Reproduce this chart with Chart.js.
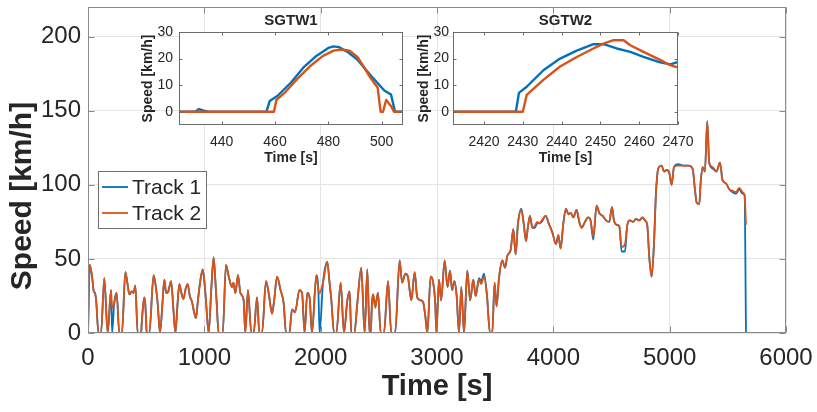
<!DOCTYPE html>
<html>
<head>
<meta charset="utf-8">
<script src="https://cdn.jsdelivr.net/npm/chart.js@4/dist/chart.umd.min.js"></script>
<style>
  html, body { margin: 0; padding: 0; background: #fff; }
  #wrap { position: relative; width: 817px; height: 412px; }
  #wrap canvas { position: absolute; left: 0; top: 0; }
</style>
</head>
<body>
<div id="wrap">
  <canvas id="main" width="817" height="412"></canvas>
  <canvas id="inset1" width="817" height="412"></canvas>
  <canvas id="inset2" width="817" height="412"></canvas>
</div>
<script>
// ---- main plot: full drive cycle (time in s, speed in km/h) ----
const time = [
  0, 15, 35, 50, 60, 70, 90, 112, 140, 169, 198, 207, 225, 246, 269, 292, 321, 340, 355, 375,
  390, 407, 427, 457, 460, 472, 484, 492, 500, 504, 527, 564, 585, 599, 619, 640, 656, 672, 690, 714,
  735, 751, 770, 785, 800, 820, 840, 857, 875, 894, 912, 928, 945, 965, 986, 1000, 1014, 1037, 1060, 1080,
  1095, 1105, 1123, 1158, 1186, 1210, 1238, 1250, 1267, 1289, 1310, 1338, 1352, 1375, 1404, 1424, 1453, 1473, 1496, 1530,
  1555, 1582, 1600, 1625, 1655, 1682, 1702, 1731, 1754, 1780, 1817, 1840, 1862, 1885, 1905, 1925, 1963, 1980, 1991, 2020,
  2057, 2075, 2092, 2115, 2135, 2172, 2200, 2229, 2249, 2263, 2290, 2315, 2349, 2378, 2401, 2420, 2430, 2440, 2450, 2460,
  2470, 2480, 2493, 2516, 2544, 2579, 2607, 2640, 2679, 2700, 2728, 2750, 2779, 2808, 2830, 2859, 2880, 2900, 2917, 2945,
  2965, 2985, 2995, 3017, 3035, 3066, 3090, 3112, 3130, 3150, 3169, 3189, 3209, 3232, 3260, 3285, 3312, 3332, 3361, 3380,
  3404, 3430, 3455, 3475, 3495, 3512, 3533, 3561, 3585, 3604, 3633, 3656, 3676, 3696, 3725, 3745, 3765, 3782, 3799, 3820,
  3840, 3862, 3880, 3900, 3934, 3960, 3991, 4023, 4043, 4063, 4086, 4109, 4130, 4150, 4172, 4200, 4223, 4243, 4272, 4300,
  4320, 4343, 4372, 4395, 4424, 4453, 4481, 4504, 4521, 4544, 4567, 4587, 4616, 4636, 4659, 4687, 4710, 4739, 4767, 4787,
  4807, 4825, 4845, 4865, 4882, 4902, 4931, 4951, 4974, 4997, 5017, 5037, 5074, 5117, 5160, 5197, 5217, 5232, 5255, 5266,
  5283, 5303, 5323, 5340, 5369, 5403, 5432, 5455, 5484, 5513, 5541, 5570, 5598, 5627, 5644, 5656
];
const track1 = [
  0, 46, 38, 28, 27, 22, 0, 0, 37, 0, 29, 0, 20, 27, 0, 0, 41, 33, 26, 28,
  27, 32, 0, 0, 4, 17, 24, 20, 8, 0, 0, 39, 30, 20, 0, 20, 36, 27, 28, 35,
  15, 0, 20, 33, 28, 23, 30, 33, 25, 21, 14, 10, 22, 35, 43, 35, 22, 0, 30, 51,
  35, 22, 0, 0, 46, 38, 31, 34, 27, 39, 27, 22, 0, 29, 0, 0, 24, 0, 0, 35,
  26, 13, 22, 38, 29, 20, 0, 0, 16, 14, 29, 27, 0, 27, 24, 0, 39, 29, 0, 34,
  48, 35, 22, 0, 0, 34, 0, 22, 28, 0, 0, 20, 44, 0, 43, 0, 0, 20, 26, 21,
  18, 22, 27, 0, 0, 35, 0, 0, 49, 34, 40, 38, 22, 41, 24, 22, 21, 11, 0, 38,
  35, 20, 0, 36, 22, 49, 31, 42, 29, 35, 25, 0, 31, 0, 42, 22, 36, 25, 37, 35,
  40, 25, 0, 0, 34, 18, 37, 49, 44, 52, 56, 70, 53, 74, 84, 74, 62, 72, 79, 71,
  71, 74, 74, 75, 79, 74, 68, 60, 66, 57, 74, 84, 80, 81, 78, 83, 75, 71, 75, 78,
  76, 63, 86, 81, 79, 76, 75, 85, 76, 73, 72, 55, 55, 73, 76, 75, 77, 76, 78, 76,
  73, 51, 38, 60, 94, 111, 113, 109, 110, 108, 100, 112, 114, 113, 113, 111, 97, 88, 87, 101,
  112, 109, 143, 115, 111, 109, 115, 103, 101, 97, 95, 94, 97, 94, 93, 0
];
const track2 = [
  0, 46, 38, 28, 27, 22, 0, 0, 37, 0, 29, 17, 20, 27, 0, 0, 41, 33, 26, 28,
  27, 32, 0, 0, 5, 17, 24, 20, 8, 0, 0, 39, 30, 20, 0, 20, 36, 27, 28, 35,
  15, 0, 20, 33, 28, 23, 30, 33, 25, 21, 14, 10, 22, 35, 43, 35, 22, 0, 30, 51,
  35, 22, 0, 0, 46, 38, 31, 34, 27, 39, 27, 22, 0, 29, 0, 0, 24, 0, 0, 35,
  26, 13, 22, 38, 29, 20, 0, 0, 16, 14, 29, 27, 0, 27, 24, 0, 39, 29, 27, 34,
  48, 35, 22, 0, 0, 34, 0, 22, 28, 0, 0, 20, 44, 0, 43, 0, 0, 17, 26, 23,
  17, 22, 27, 0, 0, 35, 0, 0, 49, 34, 40, 38, 22, 41, 24, 22, 21, 11, 0, 38,
  35, 20, 0, 36, 22, 49, 31, 42, 29, 35, 25, 0, 31, 0, 42, 22, 36, 25, 36, 33,
  38, 25, 0, 0, 34, 18, 37, 49, 44, 52, 56, 70, 53, 74, 83, 74, 62, 72, 79, 71,
  72, 75, 74, 76, 79, 74, 68, 60, 66, 57, 74, 84, 80, 81, 78, 83, 75, 71, 75, 78,
  76, 65, 86, 81, 79, 76, 75, 85, 76, 73, 72, 58, 60, 73, 76, 75, 77, 76, 78, 76,
  73, 51, 38, 60, 94, 111, 113, 109, 110, 108, 100, 112, 113, 113, 113, 111, 97, 88, 87, 101,
  112, 109, 143, 115, 112, 109, 115, 103, 101, 97, 96, 95, 98, 95, 93, 73
];
const mainXTicks = [0, 1000, 2000, 3000, 4000, 5000, 6000];
const mainYTicks = [0, 50, 100, 150, 200];

// ---- inset SGTW1 ----
const sgtw1Time1 = [424, 430, 431.5, 433, 435, 456.8, 458, 461, 466, 471, 475.5, 480, 482, 484, 487.5, 491, 496, 501, 503.5, 505, 508];
const sgtw1Track1 = [0, 0, 1, 0.5, 0, 0, 4, 6, 11, 17, 21, 24, 24.6, 24.3, 22.3, 19.5, 13.5, 8, 6.5, 0, 0];
const sgtw1Time2 = [424, 459.6, 460.5, 464, 468, 473, 478, 482, 485, 488, 491, 496, 498.5, 499.6, 500.5, 501.7, 503.6, 504.6, 508];
const sgtw1Track2 = [0, 0, 4.4, 7.5, 12, 17, 21, 23, 23.4, 23, 20.5, 12.5, 9, 0, 0, 4.4, 2, 0, 0];
const sgtw1XTicks = [440, 460, 480, 500];

// ---- inset SGTW2 ----
const sgtw2Time1 = [2411, 2428.2, 2429, 2431, 2435.3, 2439.6, 2443.9, 2448.2, 2450.8, 2454.2, 2457.7, 2461.1, 2465.4, 2468, 2470.2];
const sgtw2Track1 = [0, 0, 7.1, 9.4, 15.6, 20, 23, 25.4, 25.4, 23.8, 22.5, 20.6, 18.6, 17.8, 18.8];
const sgtw2Time2 = [2411, 2430, 2431, 2435.3, 2439.6, 2443.9, 2448.2, 2450.8, 2453.4, 2456, 2457.7, 2461.1, 2465.4, 2468, 2470.2];
const sgtw2Track2 = [0, 0, 6.3, 12, 17, 20.6, 23.8, 25.6, 26.9, 26.9, 25, 22.5, 19.5, 17.5, 16.6];
const sgtw2XTicks = [2420, 2430, 2440, 2450, 2460, 2470];
const insetYTicks = [0, 10, 20, 30];

const FONT = "'Liberation Sans', Arial, Helvetica, sans-serif";
const INK = '#262626';
const BLUE = '#0072BD';
const ORANGE = '#D95319';

const pts = (xs, ys) => xs.map((x, i) => ({ x, y: ys[i] }));
const fixedTicks = (arr) => (s) => { s.ticks = arr.map((v) => ({ value: v })); };

// MATLAB-like axes: white plot box, frame and inward ticks on all four sides
const matlabAxes = {
  id: 'matlabAxes',
  beforeDraw(chart, args, opts) {
    if (!opts.plotFill) return;
    const { ctx, chartArea: a } = chart;
    ctx.save();
    ctx.fillStyle = opts.plotFill;
    ctx.fillRect(a.left, a.top, a.right - a.left, a.bottom - a.top);
    ctx.restore();
  },
  afterDraw(chart, args, opts) {
    const { ctx, chartArea: a, scales } = chart;
    const L = opts.tickLen;
    const l = Math.round(a.left) + 0.5, r = Math.round(a.right) - 0.5;
    const t = Math.round(a.top) + 0.5, b = Math.round(a.bottom) - 0.5;
    ctx.save();
    ctx.strokeStyle = opts.color;
    ctx.lineWidth = 1;
    ctx.beginPath();
    for (const tk of scales.x.ticks) {
      const px = Math.round(scales.x.getPixelForValue(tk.value)) + 0.5;
      ctx.moveTo(px, b); ctx.lineTo(px, b - L);
      ctx.moveTo(px, t); ctx.lineTo(px, t + L);
    }
    for (const tk of scales.y.ticks) {
      const py = Math.round(scales.y.getPixelForValue(tk.value)) + 0.5;
      ctx.moveTo(l, py); ctx.lineTo(l + L, py);
      ctx.moveTo(r, py); ctx.lineTo(r - L, py);
    }
    ctx.stroke();
    ctx.strokeRect(l, t, r - l, b - t);
    ctx.restore();
  }
};

// rotated y label at a fixed spot (sits a bit below the axes centre in the original)
const sideTitle = {
  id: 'sideTitle',
  afterDraw(chart, args, o) {
    if (!o.text) return;
    const { ctx } = chart;
    ctx.save();
    ctx.translate(o.x, o.y);
    ctx.rotate(-Math.PI / 2);
    ctx.font = o.font;
    ctx.fillStyle = INK;
    ctx.textAlign = 'center';
    ctx.textBaseline = 'middle';
    ctx.fillText(o.text, 0, 0);
    ctx.restore();
  }
};

// boxed legend placed inside the main axes
const boxLegend = {
  id: 'boxLegend',
  afterDraw(chart, args, opts) {
    if (!opts.display) return;
    const { ctx } = chart;
    ctx.save();
    ctx.fillStyle = '#fff';
    ctx.fillRect(opts.x, opts.y, opts.w, opts.h);
    ctx.strokeStyle = opts.frame;
    ctx.lineWidth = 1;
    ctx.strokeRect(opts.x + 0.5, opts.y + 0.5, opts.w, opts.h);
    ctx.font = opts.font;
    ctx.textBaseline = 'middle';
    ctx.fillStyle = INK;
    chart.data.datasets.forEach((ds, i) => {
      const cy = opts.y + opts.first + i * opts.rowH;
      ctx.strokeStyle = ds.borderColor;
      ctx.lineWidth = 1.8;
      ctx.beginPath();
      ctx.moveTo(opts.x + 4, cy);
      ctx.lineTo(opts.x + 30, cy);
      ctx.stroke();
      ctx.fillText(ds.label, opts.x + 34, cy + 1);
    });
    ctx.restore();
  }
};

const lineDs = (label, data, color, width, order, smooth) => ({
  label, data, borderColor: color, backgroundColor: color,
  borderWidth: width, pointRadius: 0, borderJoinStyle: 'round', order,
  tension: smooth ? 0.4 : 0, cubicInterpolationMode: smooth ? 'monotone' : 'default'
});

new Chart(document.getElementById('main'), {
  type: 'line',
  data: {
    datasets: [
      lineDs('Track 1', pts(time, track1), BLUE, 1.8, 2, true),
      lineDs('Track 2', pts(time, track2), ORANGE, 1.8, 1, true)
    ]
  },
  options: {
    responsive: false,
    animation: false,
    events: [],
    layout: { padding: { left: 0, top: 7, right: 31, bottom: 0 } },
    plugins: {
      legend: { display: false },
      tooltip: { enabled: false },
      matlabAxes: { color: '#8a8a8a', tickLen: 6 },
      sideTitle: { text: 'Speed [km/h]', x: 23, y: 196, font: `bold 30px ${FONT}` },
      boxLegend: { display: true, x: 98, y: 171, w: 108, h: 57, first: 16, rowH: 26, frame: '#6e6e6e', font: `21px ${FONT}` }
    },
    scales: {
      x: {
        type: 'linear', min: 0, max: 6000,
        afterBuildTicks: fixedTicks(mainXTicks),
        afterFit: (s) => { s.height = 79; s.paddingLeft = 0; s.paddingRight = 0; },
        grid: { color: '#e4e4e4', drawTicks: false },
        border: { display: false },
        ticks: { font: { family: FONT, size: 24 }, color: INK, padding: 11, maxRotation: 0, autoSkip: false, callback: (v) => String(v) },
        title: { display: true, text: 'Time [s]', color: INK, font: { family: FONT, size: 29, weight: 'bold' }, padding: { top: 0, bottom: 8 } }
      },
      y: {
        min: 0, max: 220,
        afterBuildTicks: fixedTicks(mainYTicks),
        afterFit: (s) => { s.width = 88; s.paddingTop = 0; s.paddingBottom = 0; },
        grid: { color: '#e4e4e4', drawTicks: false },
        border: { display: false },
        ticks: { font: { family: FONT, size: 24 }, color: INK, padding: 7, autoSkip: false, callback: (v) => String(v) },
        title: { display: false }
      }
    }
  },
  plugins: [matlabAxes, sideTitle, boxLegend]
});

function inset(id, name, d1, d2, xr, xTicks, pad, yTickPad, yTitlePad) {
  new Chart(document.getElementById(id), {
    type: 'line',
    data: {
      datasets: [
        lineDs('Track 1', d1, BLUE, 2.4, 2, false),
        lineDs('Track 2', d2, ORANGE, 2.4, 1, false)
      ]
    },
    options: {
      responsive: false,
      animation: false,
      events: [],
      layout: { padding: { left: pad.left, top: 0, right: pad.right, bottom: 242 } },
      plugins: {
        legend: { display: false },
        tooltip: { enabled: false },
        title: { display: true, text: name, fullSize: false, color: INK, font: { family: FONT, size: 15, weight: 'bold' }, padding: { top: 12, bottom: 2 } },
        matlabAxes: { color: '#6a6a6a', tickLen: 3, plotFill: '#fff' }
      },
      scales: {
        x: {
          type: 'linear', min: xr[0], max: xr[1],
          afterBuildTicks: fixedTicks(xTicks),
          afterFit: (s) => { s.height = 45; },
          grid: { display: false, drawTicks: false },
          border: { display: false },
          ticks: { font: { family: FONT, size: 14 }, color: INK, padding: 9, maxRotation: 0, autoSkip: false, callback: (v) => String(v) },
          title: { display: true, text: 'Time [s]', color: INK, font: { family: FONT, size: 14, weight: 'bold' }, padding: { top: 0, bottom: 3 } }
        },
        y: {
          min: -5, max: 30,
          afterBuildTicks: fixedTicks(insetYTicks),
          afterFit: (s) => { s.width = pad.yWidth; },
          grid: { display: false, drawTicks: false },
          border: { display: false },
          ticks: { font: { family: FONT, size: 14 }, color: INK, padding: yTickPad, autoSkip: false, callback: (v) => String(v) },
          title: { display: true, text: 'Speed [km/h]', color: INK, font: { family: FONT, size: 14, weight: 'bold' }, padding: { top: yTitlePad, bottom: 0 } }
        }
      }
    },
    plugins: [matlabAxes]
  });
}

inset('inset1', 'SGTW1', pts(sgtw1Time1, sgtw1Track1), pts(sgtw1Time2, sgtw1Track2),
  [424, 508], sgtw1XTicks, { left: 130, right: 414, yWidth: 49 }, 6, 10);
inset('inset2', 'SGTW2', pts(sgtw2Time1, sgtw2Track1), pts(sgtw2Time2, sgtw2Track2),
  [2412, 2470], sgtw2XTicks, { left: 400, right: 139, yWidth: 53 }, 4, 16);
</script>
</body>
</html>
